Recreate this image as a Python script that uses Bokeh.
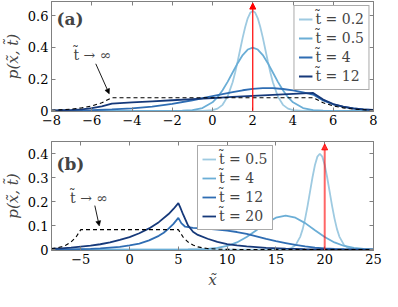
from bokeh.plotting import figure
from bokeh.models import Range1d, LinearAxis, FixedTicker, Legend, LegendItem, Label, Arrow, NormalHead
from bokeh.layouts import column
from bokeh.embed import file_html
from bokeh.resources import INLINE

# ---------------- data: panel (a) ----------------
a_x0 = 2  # initial position (red arrow)
a_x_t02 = [-8, -0.5, 0, 0.25, 0.5, 0.75, 1.0, 1.125, 1.25, 1.375, 1.5, 1.625, 1.75, 1.875, 2.0,
           2.125, 2.25, 2.375, 2.5, 2.625, 2.75, 2.875, 3.0, 3.25, 3.5, 3.75, 4.0, 4.5, 8]
a_p_t02 = [0, 0.0003, 0.004, 0.014, 0.038, 0.090, 0.181, 0.242, 0.312, 0.387, 0.462, 0.529, 0.584, 0.619, 0.631,
           0.619, 0.584, 0.529, 0.462, 0.387, 0.312, 0.242, 0.181, 0.090, 0.038, 0.014, 0.004, 0.0003, 0]
a_x_t05 = [-8, -2, -1.5, -1, -0.5, 0, 0.25, 0.5, 0.75, 1.0, 1.25, 1.5, 1.75, 2.0,
           2.25, 2.5, 2.75, 3.0, 3.25, 3.5, 3.75, 4.0, 4.5, 5.0, 5.5, 6, 8]
a_p_t05 = [0, 0.0001, 0.0009, 0.0044, 0.0175, 0.054, 0.086, 0.130, 0.183, 0.242, 0.301, 0.352, 0.387, 0.399,
           0.387, 0.352, 0.301, 0.242, 0.183, 0.130, 0.086, 0.054, 0.0175, 0.0044, 0.0009, 0.0001, 0]
a_x_t4 = [-8, -7, -6, -5, -4, -3, -2, -1, 0, 0.5, 1, 1.5, 2, 2.5, 3, 3.5, 4, 4.5, 5, 5.5, 6, 6.5, 7, 7.5, 8]
a_p_t4 = [0.001, 0.002, 0.004, 0.009, 0.016, 0.027, 0.044, 0.067, 0.093, 0.106, 0.118, 0.130, 0.139, 0.144,
          0.143, 0.138, 0.129, 0.117, 0.103, 0.066, 0.041, 0.025, 0.015, 0.009, 0.005]
a_x_t12 = [-8, -7.5, -7, -6.5, -6, -5.5, -5, -4, -3, -2, -1, 0, 1, 2, 3, 4, 5, 5.5, 6, 6.5, 7, 7.5, 8]
a_p_t12 = [0.002, 0.004, 0.006, 0.010, 0.017, 0.028, 0.046, 0.053, 0.060, 0.067, 0.074, 0.081, 0.088, 0.095,
           0.101, 0.107, 0.113, 0.071, 0.043, 0.027, 0.016, 0.010, 0.006]
a_x_inf = [-8, -7.5, -7, -6.5, -6, -5.5, -5, 5, 5.5, 6, 6.5, 7, 7.5, 8]
a_p_inf = [0.004, 0.007, 0.011, 0.019, 0.031, 0.051, 0.083, 0.083, 0.051, 0.031, 0.019, 0.011, 0.007, 0.004]
a_labels = ["t\u0303 = 0.2", "t\u0303 = 0.5", "t\u0303 = 4", "t\u0303 = 12"]
a_xticks = [-8, -6, -4, -2, 0, 2, 4, 6, 8]
a_xtick_labels = ["\u22128", "\u22126", "\u22124", "\u22122", "0", "2", "4", "6", "8"]
a_yticks = [0, 0.2, 0.4, 0.6]
a_ytick_labels = ["0", "0.2", "0.4", "0.6"]

# ---------------- data: panel (b) ----------------
b_x0 = 20
b_x_t05 = [-8, 15, 15.5, 16, 16.5, 17, 17.5, 17.75, 18, 18.25, 18.5, 18.75, 19, 19.25, 19.5,
           19.75, 20, 20.25, 20.5, 20.75, 21, 21.25, 21.5, 22, 22.5, 23, 23.5, 25]
b_p_t05 = [0, 0, 0.0001, 0.0009, 0.0044, 0.0175, 0.054, 0.086, 0.130, 0.183, 0.242, 0.301, 0.352, 0.387, 0.399,
           0.387, 0.352, 0.301, 0.242, 0.183, 0.130, 0.086, 0.054, 0.0175, 0.0044, 0.0009, 0.0001, 0]
b_x_t4 = [-8, 6, 7, 8, 9, 10, 11, 12, 13, 14, 15, 16, 17, 18, 19, 20, 21, 22, 23, 24, 25]
b_p_t4 = [0, 0.0001, 0.0009, 0.0026, 0.0066, 0.0148, 0.0296, 0.052, 0.080, 0.110, 0.1325, 0.141,
          0.1325, 0.110, 0.080, 0.052, 0.0296, 0.0148, 0.0066, 0.0026, 0.0009]
b_x_t12 = [-8, -6, -5, -4, -3, -2, -1, 0, 1, 2, 3, 3.5, 4, 4.5, 5, 5.3, 5.7, 6.5, 7.5, 9,
           10, 11, 12, 13, 14, 15, 16, 17, 18, 19, 20, 21, 22, 23, 25]
b_p_t12 = [0.0005, 0.001, 0.002, 0.003, 0.005, 0.008, 0.011, 0.017, 0.025, 0.038, 0.057, 0.070, 0.087, 0.107,
           0.132, 0.110, 0.095, 0.090, 0.088, 0.083, 0.079, 0.073, 0.065, 0.055, 0.044, 0.035, 0.027, 0.019,
           0.013, 0.008, 0.005, 0.003, 0.0015, 0.0007, 0]
b_x_t20 = [-8, -7, -6, -5, -4, -3, -2, -1, 0, 1, 2, 3, 4, 4.5, 5, 5.25, 5.5, 6, 6.5, 7,
           8, 9, 10, 11, 12, 14, 16, 18, 20, 25]
b_p_t20 = [0.003, 0.005, 0.008, 0.012, 0.016, 0.022, 0.030, 0.040, 0.052, 0.068, 0.088, 0.114, 0.148, 0.169,
           0.193, 0.170, 0.145, 0.100, 0.074, 0.061, 0.045, 0.032, 0.023, 0.017, 0.013, 0.007, 0.004, 0.002,
           0.001, 0]
b_x_inf = [-8, -7.5, -7, -6.5, -6, -5.5, -5, 5, 5.5, 6, 6.5, 7, 7.5, 8, 9, 10, 25]
b_p_inf = [0.004, 0.007, 0.011, 0.019, 0.031, 0.051, 0.083, 0.083, 0.051, 0.031, 0.019, 0.011, 0.007, 0.004,
           0.0015, 0.0005, 0]
b_labels = ["t\u0303 = 0.5", "t\u0303 = 4", "t\u0303 = 12", "t\u0303 = 20"]
b_xticks = [-5, 0, 5, 10, 15, 20, 25]
b_xtick_labels = ["\u22125", "0", "5", "10", "15", "20", "25"]
b_yticks = [0, 0.1, 0.2, 0.3, 0.4]
b_ytick_labels = ["0", "0.1", "0.2", "0.3", "0.4"]

# ---------------- style ----------------
COLORS = ["#9ecae1", "#6baed6", "#2f6db3", "#16397a"]
FONT = "DejaVu Serif"
GRAY = "#808080"
LW = 1.8


def mirror_axis(ticks):
    return LinearAxis(ticker=FixedTicker(ticks=ticks, minor_ticks=[]), major_label_text_font_size="1px",
                      major_label_text_color=None, major_tick_in=4, major_tick_out=0,
                      major_tick_line_color=GRAY, minor_tick_line_color=None, axis_line_color=GRAY,
                      major_label_standoff=0)


def make_fig(height, xr, yr, top, bottom, xticks, xlabels, yticks, ylabels, xlabel=None):
    p = figure(width=382, height=height, x_range=Range1d(*xr), y_range=Range1d(*yr),
               output_backend="svg", toolbar_location=None,
               min_border_left=44, min_border_right=9, min_border_top=top, min_border_bottom=bottom)
    p.grid.visible = False
    p.outline_line_color = GRAY
    p.outline_line_width = 1
    p.background_fill_color = "white"
    p.border_fill_color = "white"
    xax = p.below[0]
    yax = p.left[0]
    for ax, ticks, labels in ((xax, xticks, xlabels), (yax, yticks, ylabels)):
        ax.ticker = FixedTicker(ticks=ticks, minor_ticks=[])
        ax.major_label_overrides = {t: l for t, l in zip(ticks, labels)}
        ax.major_label_text_font = FONT
        ax.major_label_text_font_size = "13px"
        ax.major_label_text_color = "black"
        ax.major_tick_in = 4
        ax.major_tick_out = 0
        ax.major_tick_line_color = GRAY
        ax.minor_tick_line_color = None
        ax.axis_line_color = GRAY
        ax.major_label_standoff = 3
    yax.axis_label = "p(x\u0303, t\u0303)"
    yax.axis_label_text_font = FONT
    yax.axis_label_text_font_style = "italic"
    yax.axis_label_text_font_size = "15px"
    yax.axis_label_standoff = 3
    if xlabel:
        xax.axis_label = xlabel
        xax.axis_label_text_font = FONT
        xax.axis_label_text_font_style = "italic"
        xax.axis_label_text_font_size = "15px"
        xax.axis_label_standoff = 4
    p.add_layout(mirror_axis(yticks), "right")
    p.add_layout(mirror_axis(xticks), "above")
    return p


def make_legend(renderers, labels, location):
    items = [LegendItem(label=l, renderers=[r]) for l, r in zip(labels, renderers)]
    return Legend(items=items, location=location, label_text_font=FONT, label_text_font_size="14px",
                  border_line_color="#555555", border_line_width=1, background_fill_color="white",
                  background_fill_alpha=1.0, glyph_width=14, glyph_height=12, label_height=18,
                  label_standoff=3, label_width=44, spacing=1, padding=4, margin=4)


def annot(p, tx, ty, x0, y0, x1, y1):
    p.add_layout(Label(x=tx, y=ty, text="t\u0303 \u2192 \u221e", text_align="center",
                       text_baseline="middle", text_font=FONT, text_font_size="14px"))
    p.add_layout(Arrow(end=NormalHead(size=5, fill_color="black", line_color="black", line_width=0.5),
                       x_start=x0, y_start=y0, x_end=x1, y_end=y1, line_color="black", line_width=0.9))


# ---------------- panel (a) ----------------
pa = make_fig(136, (-8, 8), (-0.004, 0.69), 1, 25, a_xticks, a_xtick_labels, a_yticks, a_ytick_labels)
ra = []
for (xs, ys), c in zip([(a_x_t02, a_p_t02), (a_x_t05, a_p_t05), (a_x_t4, a_p_t4), (a_x_t12, a_p_t12)], COLORS):
    ra.append(pa.line(xs, ys, line_color=c, line_width=LW))
pa.line(a_x_inf, a_p_inf, line_color="black", line_width=1.1, line_dash="4 3")
pa.add_layout(Arrow(end=NormalHead(size=6, fill_color="red", line_color="red"),
                    x_start=a_x0, y_start=0, x_end=a_x0, y_end=0.68, line_color="red", line_width=1.2))
pa.add_layout(make_legend(ra, a_labels, "top_right"))
pa.add_layout(Label(x=-7.75, y=0.58, text="(a)", text_baseline="middle", text_font=FONT,
                    text_font_style="bold", text_font_size="17px"))
annot(pa, -5.97, 0.35, -5.8, 0.297, -5.13, 0.107)

# ---------------- panel (b) ----------------
pb = make_fig(155, (-8, 25), (-0.004, 0.45), 5, 40, b_xticks, b_xtick_labels, b_yticks, b_ytick_labels,
              xlabel="x\u0303")
pb.add_layout(Arrow(end=NormalHead(size=6, fill_color="red", line_color="red", fill_alpha=0.8, line_alpha=0.8),
                    x_start=b_x0, y_start=0, x_end=b_x0, y_end=0.44, line_color="red", line_alpha=0.6,
                    line_width=2))
rb = []
for (xs, ys), c in zip([(b_x_t05, b_p_t05), (b_x_t4, b_p_t4), (b_x_t12, b_p_t12), (b_x_t20, b_p_t20)], COLORS):
    rb.append(pb.line(xs, ys, line_color=c, line_width=LW))
pb.line(b_x_inf, b_p_inf, line_color="black", line_width=1.1, line_dash="4 3")
pb.add_layout(make_legend(rb, b_labels, (146, 20)))
pb.add_layout(Label(x=-7.5, y=0.357, text="(b)", text_baseline="middle", text_font=FONT,
                    text_font_style="bold", text_font_size="17px"))
annot(pb, -4.15, 0.213, -3.56, 0.183, -3.1, 0.098)

layout = column(pa, pb, spacing=0)
open("out.html", "w").write(file_html(layout, INLINE))
